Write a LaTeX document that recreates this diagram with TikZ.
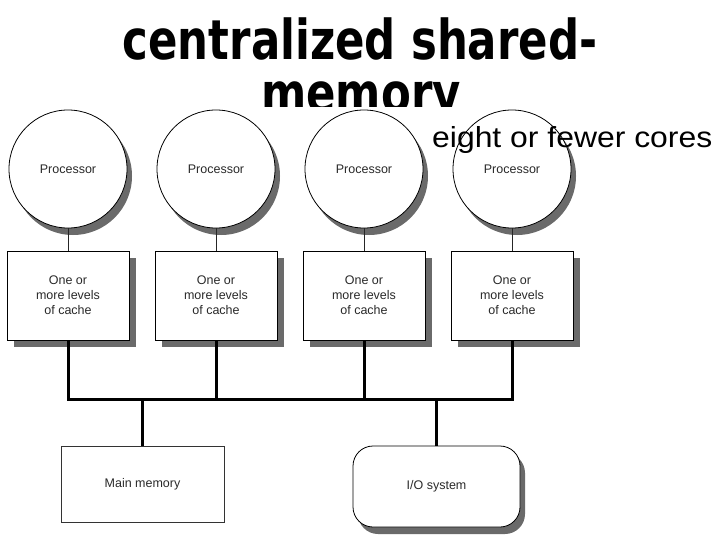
\documentclass[tikz,border=0pt]{standalone}
\usepackage{fontspec}
\setmainfont{Liberation Sans}
\newfontfamily\titlefont{DejaVu Sans}
\usetikzlibrary{shadows}
\definecolor{shadowgray}{HTML}{6A6A6A}
\definecolor{labelgray}{HTML}{2A2A2A}
\tikzset{
  procnode/.style={circle, draw=black, line width=0.8pt, fill=white, minimum size=118pt, inner sep=0pt,
    font=\fontsize{12.5}{15}\selectfont, text=labelgray,
    drop shadow={shadow xshift=5pt, shadow yshift=-7pt, fill=shadowgray, opacity=1}},
  cachenode/.style={rectangle, draw=black, line width=0.8pt, fill=white, minimum width=122pt, minimum height=89pt,
    inner sep=0pt, align=center, font=\fontsize{12.5}{15}\selectfont, text=labelgray,
    drop shadow={shadow xshift=7pt, shadow yshift=-7pt, fill=shadowgray, opacity=1}},
  memnode/.style={rectangle, draw=black!80, line width=0.7pt, fill=white, minimum width=163pt, minimum height=76pt,
    inner sep=0pt, font=\fontsize{12.5}{15}\selectfont, text=labelgray},
  ionode/.style={rectangle, rounded corners=20pt, draw=black, line width=0.8pt, fill=white, minimum width=167pt,
    minimum height=81pt, inner sep=0pt, font=\fontsize{12.5}{15}\selectfont, text=labelgray,
    drop shadow={shadow xshift=5pt, shadow yshift=-7pt, fill=shadowgray, opacity=1}},
  thinlink/.style={draw=black!85, line width=1pt},
  buslink/.style={draw=black, line width=3pt, line join=miter},
  titletext/.style={anchor=base, inner sep=0pt, font=\titlefont\bfseries\fontsize{55}{55}\selectfont},
  notetext/.style={anchor=base west, inner sep=0pt, font=\fontsize{29}{29}\selectfont}
}
\begin{document}
\begin{tikzpicture}[x=1pt, y=-1pt]
\useasboundingbox (0,0) rectangle (720,540);
\fill[white] (0,0) rectangle (720,540);
% title
\node[titletext] (title1) at (360,60) {\scalebox{0.79}[1]{centralized shared-}};
\node[titletext] (title2) at (361,113) {\scalebox{0.79}[1]{memory}};
% pasted figure background covering the title's lower part
\fill[white] (0,107) rectangle (600,540);
% processors
\foreach \i/\x in {1/68, 2/216, 3/364, 4/512} {
  \node[procnode] (p\i) at (\x,169) {Processor};
  \node[cachenode] (c\i) at (\x,295.5) {One or\\more levels\\of cache};
  \draw[thinlink] (p\i.south) -- (c\i.north);
}
% memory and I/O
\node[memnode] (mm) at (142.5,484) {Main memory};
\node[ionode] (io) at (436.5,486.5) {I/O system};
% bus
\coordinate (busy) at (0,399);
\draw[buslink] (c1.south) -- (c1.south |- busy) -- (c4.south |- busy) -- (c4.south);
\draw[buslink] (c2.south) -- (c2.south |- busy);
\draw[buslink] (c3.south) -- (c3.south |- busy);
\draw[buslink] (mm.north) -- (mm.north |- busy);
\draw[buslink] (io.north) -- (io.north |- busy);
% note
\node[notetext] (note) at (432,148) {\scalebox{1.1}[1]{eight or fewer cores}};
\end{tikzpicture}
\end{document}
